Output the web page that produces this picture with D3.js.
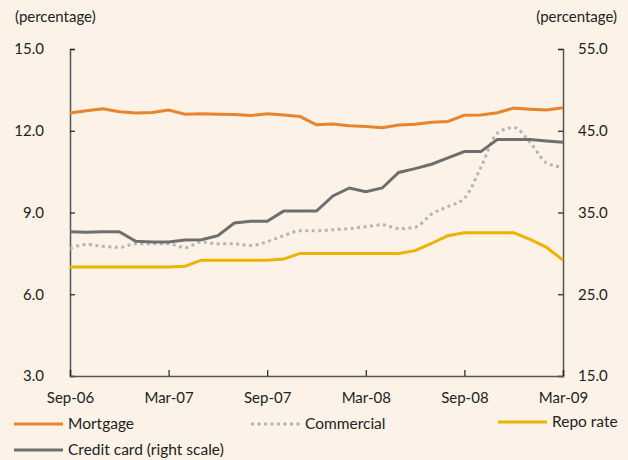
<!DOCTYPE html>
<html><head><meta charset="utf-8">
<script src="https://cdn.jsdelivr.net/npm/d3@7"></script>
<style>
html,body{margin:0;padding:0;background:#fdf2e7;}
svg{display:block;font-family:Lato,"Open Sans",sans-serif;}
</style></head><body>
<svg id="c" width="628" height="460"></svg>
<script>
const months = ["Sep-06","Oct-06","Nov-06","Dec-06","Jan-07","Feb-07","Mar-07","Apr-07","May-07","Jun-07","Jul-07","Aug-07",
"Sep-07","Oct-07","Nov-07","Dec-07","Jan-08","Feb-08","Mar-08","Apr-08","May-08","Jun-08","Jul-08","Aug-08",
"Sep-08","Oct-08","Nov-08","Dec-08","Jan-09","Feb-09","Mar-09"];
const xTickLabels = ["Sep-06","Mar-07","Sep-07","Mar-08","Sep-08","Mar-09"];
const leftTicks = [3,6,9,12,15];
const rightTicks = [15,25,35,45,55];
const mortgage = [12.65,12.73,12.81,12.70,12.65,12.67,12.76,12.61,12.62,12.61,12.60,12.56,12.62,12.58,12.52,12.22,12.25,12.18,12.16,12.11,12.21,12.24,12.31,12.34,12.57,12.58,12.66,12.83,12.79,12.76,12.84];
const commercial = [7.68,7.83,7.76,7.72,7.85,7.85,7.85,7.71,7.92,7.85,7.85,7.79,7.93,8.15,8.33,8.33,8.37,8.41,8.48,8.55,8.41,8.46,8.94,9.22,9.52,10.65,11.91,12.12,11.57,10.82,10.66];
const repo = [7.0,7.0,7.0,7.0,7.0,7.0,7.0,7.03,7.25,7.25,7.25,7.25,7.25,7.29,7.5,7.5,7.5,7.5,7.5,7.5,7.5,7.6,7.87,8.15,8.26,8.26,8.26,8.26,8.01,7.72,7.25];
const creditCard = [32.65,32.57,32.65,32.65,31.47,31.38,31.38,31.63,31.67,32.16,33.72,33.94,33.94,35.17,35.17,35.17,37.02,38.0,37.55,38.0,39.9,40.37,40.9,41.68,42.45,42.45,43.92,43.92,43.92,43.76,43.6];

const svg = d3.select("#c");
const L = 70, R = 563, T = 49, B = 376;
const x = d3.scalePoint().domain(months).range([L, R]);
const yL = d3.scaleLinear().domain([3,15]).range([B, T]);
const yR = d3.scaleLinear().domain([15,55]).range([B, T]);

const axisColor = "#555";
const gl = svg.append("g").attr("transform",`translate(${L},0)`)
  .call(d3.axisLeft(yL).tickValues(leftTicks).tickSize(-5).tickPadding(26).tickFormat(d3.format(".1f")));
const gr = svg.append("g").attr("transform",`translate(${R},0)`)
  .call(d3.axisRight(yR).tickValues(rightTicks).tickSize(-5).tickPadding(15).tickFormat(d3.format(".1f")));
const gb = svg.append("g").attr("transform",`translate(0,${B})`)
  .call(d3.axisBottom(x).tickValues(xTickLabels).tickSize(-6).tickPadding(16));
[gl,gr,gb].forEach(g=>{
  g.select(".domain").attr("stroke",axisColor).attr("stroke-width",1.5);
  g.selectAll(".tick line").attr("stroke","#222").attr("stroke-width",1.2);
  g.selectAll("text").attr("fill","#222").attr("font-size",15).attr("font-family","Lato, sans-serif");
});
gr.selectAll("text").attr("text-anchor","start");

svg.append("text").attr("x",15).attr("y",22).attr("font-size",15).attr("fill","#222").text("(percentage)");
svg.append("text").attr("x",617).attr("y",22).attr("text-anchor","end").attr("font-size",15).attr("fill","#222").text("(percentage)");

const lineL = d3.line().x((d,i)=>x(months[i])).y(d=>yL(d));
const lineR = d3.line().x((d,i)=>x(months[i])).y(d=>yR(d));
const lineC = d3.line().x((d,i)=>x(months[i])).y(d=>yL(d)).curve(d3.curveMonotoneX);

const cMort = "#e8842c", cComm = "#b5b5b5", cRepo = "#ebb400", cCard = "#6e6e6e";
svg.append("path").datum(repo).attr("d",lineL).attr("fill","none").attr("stroke",cRepo).attr("stroke-width",3);
svg.append("path").datum(commercial).attr("d",lineC).attr("fill","none").attr("stroke",cComm).attr("stroke-width",3).attr("stroke-dasharray","3,3.5");
svg.append("path").datum(creditCard).attr("d",lineR).attr("fill","none").attr("stroke",cCard).attr("stroke-width",3);
svg.append("path").datum(mortgage).attr("d",lineL).attr("fill","none").attr("stroke",cMort).attr("stroke-width",3);

const legend = [
  {name:"Mortgage", color:cMort, dash:null, x:14, y:424},
  {name:"Commercial", color:cComm, dash:"3,3.5", x:251, y:424},
  {name:"Repo rate", color:cRepo, dash:null, x:498, y:422},
  {name:"Credit card (right scale)", color:cCard, dash:null, x:14, y:450}
];
const lg = svg.append("g").selectAll("g").data(legend).join("g").attr("transform",d=>`translate(${d.x},${d.y})`);
lg.append("line").attr("x1",0).attr("x2",49).attr("y1",0).attr("y2",0)
  .attr("stroke",d=>d.color).attr("stroke-width",3).attr("stroke-dasharray",d=>d.dash);
lg.append("text").attr("x",54).attr("y",0).attr("dy","0.35em").attr("font-size",15.5).attr("fill","#222").text(d=>d.name);
</script>
</body></html>
